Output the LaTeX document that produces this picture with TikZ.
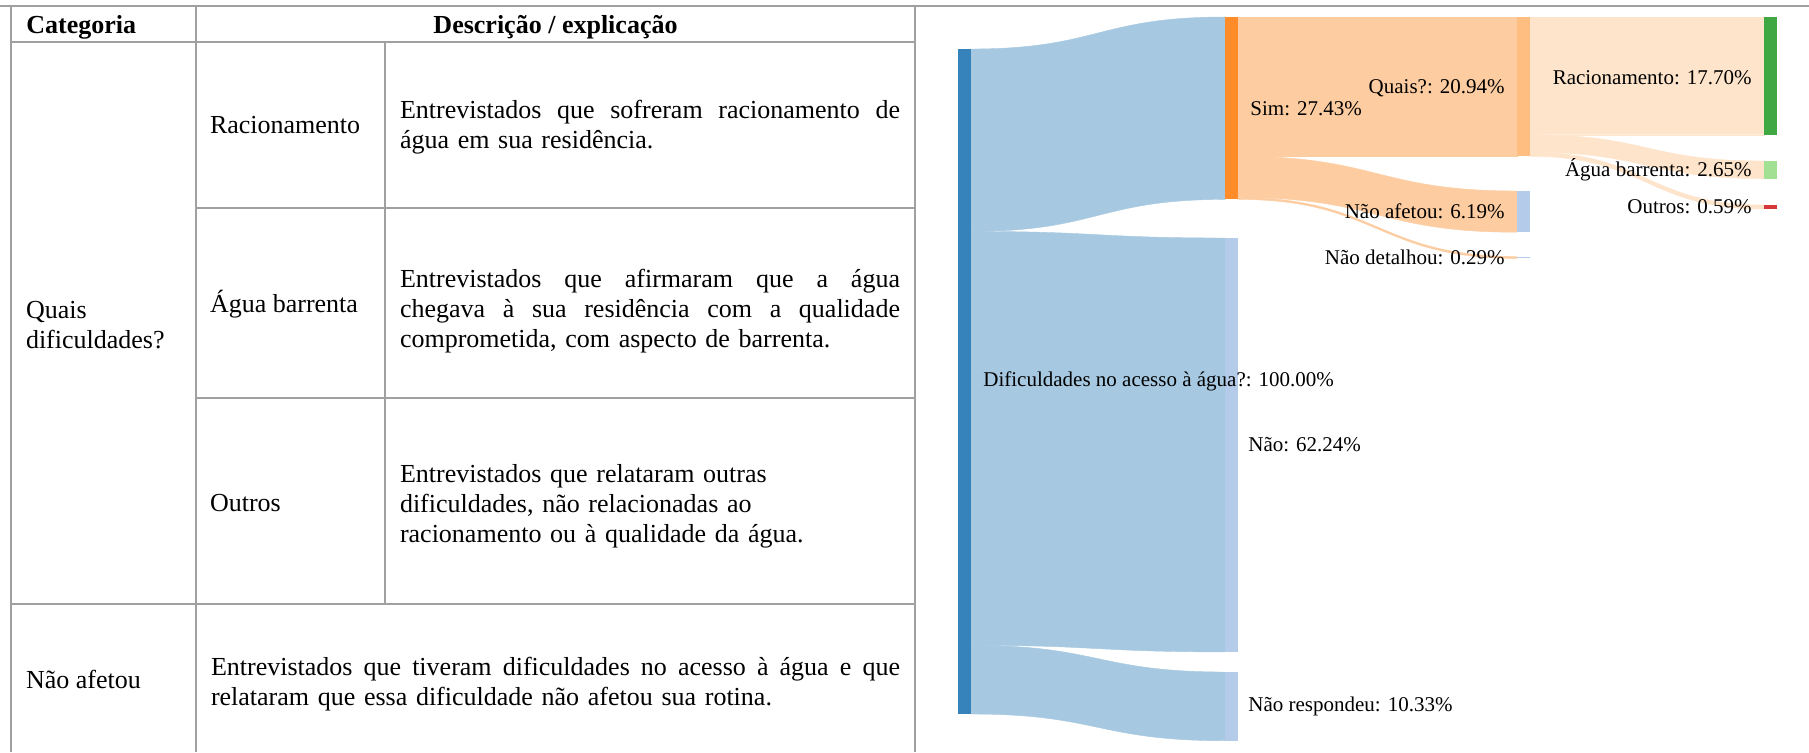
\documentclass[tikz,border=0pt]{standalone}
\usepackage{fontspec}
\setmainfont{Liberation Serif}
\usetikzlibrary{calc}
\definecolor{tgrid}{RGB}{160,160,160}
\definecolor{nblue}{RGB}{54,131,187}
\definecolor{lblue}{RGB}{166,200,224}
\definecolor{norange}{RGB}{255,140,40}
\definecolor{lorange}{RGB}{253,204,160}
\definecolor{nlav}{RGB}{181,203,234}
\definecolor{nquais}{RGB}{254,190,130}
\definecolor{lpeach}{RGB}{254,228,202}
\definecolor{ngreen}{RGB}{63,168,66}
\definecolor{nlgreen}{RGB}{162,224,148}
\definecolor{nred}{RGB}{214,56,58}
% link: from node, offset at source, to node, offset at target, thickness, colour (all in px)
\newcommand\sklink[6]{%
  \path ($(#1.north east)+(0,#2)$) coordinate (la)
        ($(#1.north east)+(0,#2+#5)$) coordinate (lb)
        ($(#3.north west)+(0,#4)$) coordinate (lc)
        ($(#3.north west)+(0,#4+#5)$) coordinate (ld)
        ($(la)!0.5!(lc)$) coordinate (lm);
  \fill[#6, draw=#6, line width=0.2pt] (la) .. controls (la -| lm) and (lc -| lm) .. (lc)
     -- (ld) .. controls (ld -| lm) and (lb -| lm) .. (lb) -- cycle;}
\newcommand\jline[2]{\makebox[#1][l]{#2}}
\begin{document}
\begin{tikzpicture}[x=0.5pt, y=-0.5pt,
  tline/.style={draw=tgrid, line width=1pt},
  tcell/.style={font=\fontsize{13pt}{15pt}\selectfont, inner sep=0pt, outer sep=0pt},
  thead/.style={font=\fontsize{13pt}{15pt}\selectfont\bfseries, inner sep=0pt},
  sklabel/.style={font=\fontsize{10.5pt}{12pt}\selectfont, inner sep=0pt},
  sknode/.style={inner sep=0pt, outer sep=0pt, draw=none, minimum width=6.5pt, anchor=north west}]
\useasboundingbox (0,0) rectangle (1809,752);
\fill[white] (0,0) rectangle (1809,752);

% ---------- table ----------
\draw[tline] (0,6) -- (1809,6);
\draw[tline] (11,6) -- (11,752);
\draw[tline] (196,6) -- (196,752);
\draw[tline] (915,6) -- (915,752);
\draw[tline] (385,42) -- (385,604);
\draw[tline] (11,42) -- (915,42);
\draw[tline] (196,208) -- (915,208);
\draw[tline] (196,398) -- (915,398);
\draw[tline] (11,604) -- (915,604);

\node[thead, anchor=base west] (hcat) at (26,33) {Categoria};
\node[thead, anchor=base] (hdesc) at (555.5,33) {Descrição / explicação};

\node[tcell, anchor=west, align=left] (quais) at (26,325) {Quais\\dificuldades?};
\node[tcell, anchor=base west] (rac) at (210,133) {Racionamento};
\node[tcell, anchor=base west] (ab) at (210,312) {Água barrenta};
\node[tcell, anchor=base west] (out) at (210,511) {Outros};
\node[tcell, anchor=base west] (naf) at (26,688) {Não afetou};

\node[tcell, anchor=west, text width=250pt, align=left] (racd) at (400,127)
  {\jline{250pt}{Entrevistados \hfill que \hfill sofreram \hfill racionamento \hfill de}\\
   água em sua residência.};
\node[tcell, anchor=west, text width=250pt, align=left] (abd) at (400,311)
  {\jline{250pt}{Entrevistados \hfill que \hfill afirmaram \hfill que \hfill a \hfill água}\\
   \jline{250pt}{chegava \hfill à \hfill sua \hfill residência \hfill com \hfill a \hfill qualidade}\\
   comprometida, com aspecto de barrenta.};
\node[tcell, anchor=west, text width=250pt, align=left] (outd) at (400,506)
  {Entrevistados que relataram outras\\dificuldades, não relacionadas ao\\racionamento ou à qualidade da água.};
\node[tcell, anchor=west, text width=344.5pt, align=left] (nafd) at (211,684.5)
  {\jline{344.5pt}{Entrevistados \hfill que \hfill tiveram \hfill dificuldades \hfill no \hfill acesso \hfill à \hfill água \hfill e \hfill que}\\
   relataram que essa dificuldade não afetou sua rotina.};

% ---------- sankey nodes (positions) ----------
\path
  node[sknode, minimum height=332.5pt] (src) at (958,49) {}
  node[sknode, minimum height=91.2pt] (sim) at (1225,17) {}
  node[sknode, minimum height=207pt] (nao) at (1225,238) {}
  node[sknode, minimum height=34.35pt] (nr) at (1225,672) {}
  node[sknode, minimum height=69.65pt] (qua) at (1517,17) {}
  node[sknode, minimum height=20.6pt] (naf2) at (1517,191) {}
  node[sknode, minimum height=0.95pt] (nd) at (1517,256.5) {}
  node[sknode, minimum height=58.85pt] (racn) at (1764,17) {}
  node[sknode, minimum height=8.8pt] (abn) at (1764,161) {}
  node[sknode, minimum height=2pt] (outn) at (1764,205) {};

% ---------- links ----------
\sklink{src}{0}{sim}{0}{182.4}{lblue}
\sklink{src}{182.4}{nao}{0}{413.9}{lblue}
\sklink{src}{596.3}{nr}{0}{68.7}{lblue}
\sklink{sim}{0}{qua}{0}{139.3}{lorange}
\sklink{sim}{139.3}{naf2}{0}{41.2}{lorange}
\sklink{sim}{180.5}{nd}{0}{1.9}{lorange}
\sklink{qua}{0}{racn}{0}{117.7}{lpeach}
\sklink{qua}{117.7}{abn}{0}{17.6}{lpeach}
\sklink{qua}{135.3}{outn}{0}{4}{lpeach}

% ---------- sankey node fills on top ----------
\fill[nblue] (src.north west) rectangle (src.south east);
\fill[norange] (sim.north west) rectangle (sim.south east);
\fill[nlav] (nao.north west) rectangle (nao.south east);
\fill[nlav] (nr.north west) rectangle (nr.south east);
\fill[nquais] (qua.north west) rectangle (qua.south east);
\fill[nlav] (naf2.north west) rectangle (naf2.south east);
\fill[nlav] (nd.north west) rectangle (nd.south east);
\fill[ngreen] (racn.north west) rectangle (racn.south east);
\fill[nlgreen] (abn.north west) rectangle (abn.south east);
\fill[nred] (outn.north west) rectangle (outn.south east);

% ---------- labels ----------
\node[sklabel, anchor=west] (lsrc) at ([xshift=6pt]src.east) {Dificuldades no acesso à água?: 100.00\%};
\node[sklabel, anchor=west] (lsim) at ([xshift=6pt]sim.east) {Sim: 27.43\%};
\node[sklabel, anchor=west] (lnao) at ([xshift=5pt]nao.east) {Não: 62.24\%};
\node[sklabel, anchor=west] (lnr) at ([xshift=5pt]nr.east) {Não respondeu: 10.33\%};
\node[sklabel, anchor=east] (lqua) at ([xshift=-6pt,yshift=-1pt]qua.west) {Quais?: 20.94\%};
\node[sklabel, anchor=east] (lnaf) at ([xshift=-6pt]naf2.west) {Não afetou: 6.19\%};
\node[sklabel, anchor=east] (lnd) at ([xshift=-6pt]nd.west) {Não detalhou: 0.29\%};
\node[sklabel, anchor=east] (lrac) at ([xshift=-6pt,yshift=-1pt]racn.west) {Racionamento: 17.70\%};
\node[sklabel, anchor=east] (lab) at ([xshift=-6pt]abn.west) {Água barrenta: 2.65\%};
\node[sklabel, anchor=east] (lout) at ([xshift=-6pt]outn.west) {Outros: 0.59\%};
\end{tikzpicture}
\end{document}
